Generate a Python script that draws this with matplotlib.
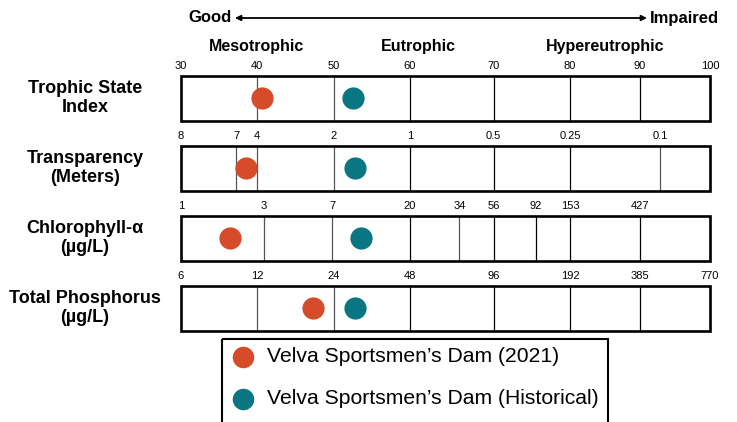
import numpy as np
import matplotlib
matplotlib.use('Agg')
import matplotlib.pyplot as plt
from matplotlib.patches import Rectangle

# ---------------- data ----------------
row_labels = ['Trophic State\nIndex', 'Transparency\n(Meters)',
              'Chlorophyll-α\n(µg/L)', 'Total Phosphorus\n(µg/L)']
classes = ['Mesotrophic', 'Eutrophic', 'Hypereutrophic']
class_tsi = [40, 61, 85]

tsi_labels = ['30', '40', '50', '60', '70', '80', '90', '100']
tsi_ticks = [30, 40, 50, 60, 70, 80, 90, 100]
sd_labels = ['8', '7', '4', '2', '1', '0.5', '0.25', '0.1']
sd_ticks = [30, 37.3, 40, 50, 60, 70, 80, 92.9]
chl_labels = ['1', '3', '7', '20', '34', '56', '92', '153', '427']
chl_ticks = [30, 40.9, 49.8, 60, 65.9, 70, 75.5, 80, 90]
tp_labels = ['6', '12', '24', '48', '96', '192', '385', '770']
tp_ticks = [30, 40, 50, 60, 70, 80, 90, 100]

series_names = ['Velva Sportsmen’s Dam (2021)', 'Velva Sportsmen’s Dam (Historical)']
tsi_2021 = [40.6, 38.5, 36.4, 47.3]
tsi_hist = [52.5, 52.8, 53.6, 52.8]

# ---------------- style / layout ----------------
W, H = 737, 422
FONT = 'Liberation Sans'
c2021 = '#D64B29'
chist = '#0A7682'
# hand-drawn ruler: pixel positions of the TSI decades in the original graphic
ruler_tsi = np.array([30, 40, 50, 60, 70, 80, 90, 100], dtype=float)
ruler_px = np.array([181, 257, 333.5, 410, 493.5, 570, 640, 710], dtype=float)
x0, x1 = ruler_px[0], ruler_px[-1]

def fwd(x):
    return np.interp(x, ruler_tsi, ruler_px)

def inv(p):
    return np.interp(p, ruler_px, ruler_tsi)

fig = plt.figure(figsize=(W / 100, H / 100), dpi=100)
fig.patch.set_facecolor('white')

ov = fig.add_axes([0, 0, 1, 1])
ov.set_xlim(0, W)
ov.set_ylim(H, 0)
ov.axis('off')

ax = fig.add_axes([x0 / W, 0, (x1 - x0) / W, 1])
ax.set_xscale('function', functions=(fwd, inv))
ax.set_xlim(30, 100)
ax.set_ylim(H, 0)
ax.axis('off')
ax.patch.set_alpha(0)

# header
ov.text(232, 18, 'Good', ha='right', va='center', fontsize=12,
        fontweight='bold', family=FONT)
ov.text(650, 18, 'Impaired', ha='left', va='center', fontsize=12,
        fontweight='bold', family=FONT)
ov.annotate('', xy=(235, 18), xytext=(647, 18),
            arrowprops=dict(arrowstyle='<|-|>', lw=1.3, color='black',
                            mutation_scale=8, shrinkA=0, shrinkB=0))
for name, t in zip(classes, class_tsi):
    ax.text(t, 46, name, ha='center', va='center', fontsize=11.5,
            fontweight='bold', family=FONT)

tick_sets = [(tsi_ticks, tsi_labels), (sd_ticks, sd_labels),
             (chl_ticks, chl_labels), (tp_ticks, tp_labels)]
gray_lines = [{40, 50}, {37.3, 40, 50, 92.9}, {40.9, 49.8, 65.9}, {40, 50}]

box_h = 45
for i, (label, (ticks, tlabels)) in enumerate(zip(row_labels, tick_sets)):
    top = 75.5 + 70 * i
    bot = top + box_h
    mid = (top + bot) / 2
    for t, s in zip(ticks, tlabels):
        ax.text(t, top - 9.5, s, ha='center', va='center', fontsize=8,
                family=FONT, clip_on=False)
    for t in ticks[1:]:
        if t >= 100:
            continue
        col = '#555555' if t in gray_lines[i] else 'black'
        ax.plot([t, t], [top, bot], color=col, lw=0.9, solid_capstyle='butt')
    ax.add_patch(Rectangle((30, top), 70, box_h, fill=False, ec='black',
                           lw=1.9, clip_on=False, zorder=3))
    ov.text(85, mid, label, ha='center', va='center', fontsize=13,
            fontweight='bold', family=FONT, linespacing=1.1)
    ax.plot(tsi_2021[i], mid, 'o', ms=16, color=c2021, mec='none', zorder=4,
            clip_on=False)
    ax.plot(tsi_hist[i], mid, 'o', ms=16, color=chist, mec='none', zorder=4,
            clip_on=False)

# legend box
ov.add_patch(Rectangle((222.5, 339), 385.5, 100, fill=False, ec='black',
                       lw=1.5, clip_on=False))
for j, (name, col) in enumerate(zip(series_names, [c2021, chist])):
    y = 357 + 42 * j
    ov.plot(243, y, 'o', ms=15.5, color=col, mec='none')
    ov.text(267, y, name, ha='left', va='center', fontsize=15.2, family=FONT)

fig.savefig('out.png', dpi=100, facecolor='white')
